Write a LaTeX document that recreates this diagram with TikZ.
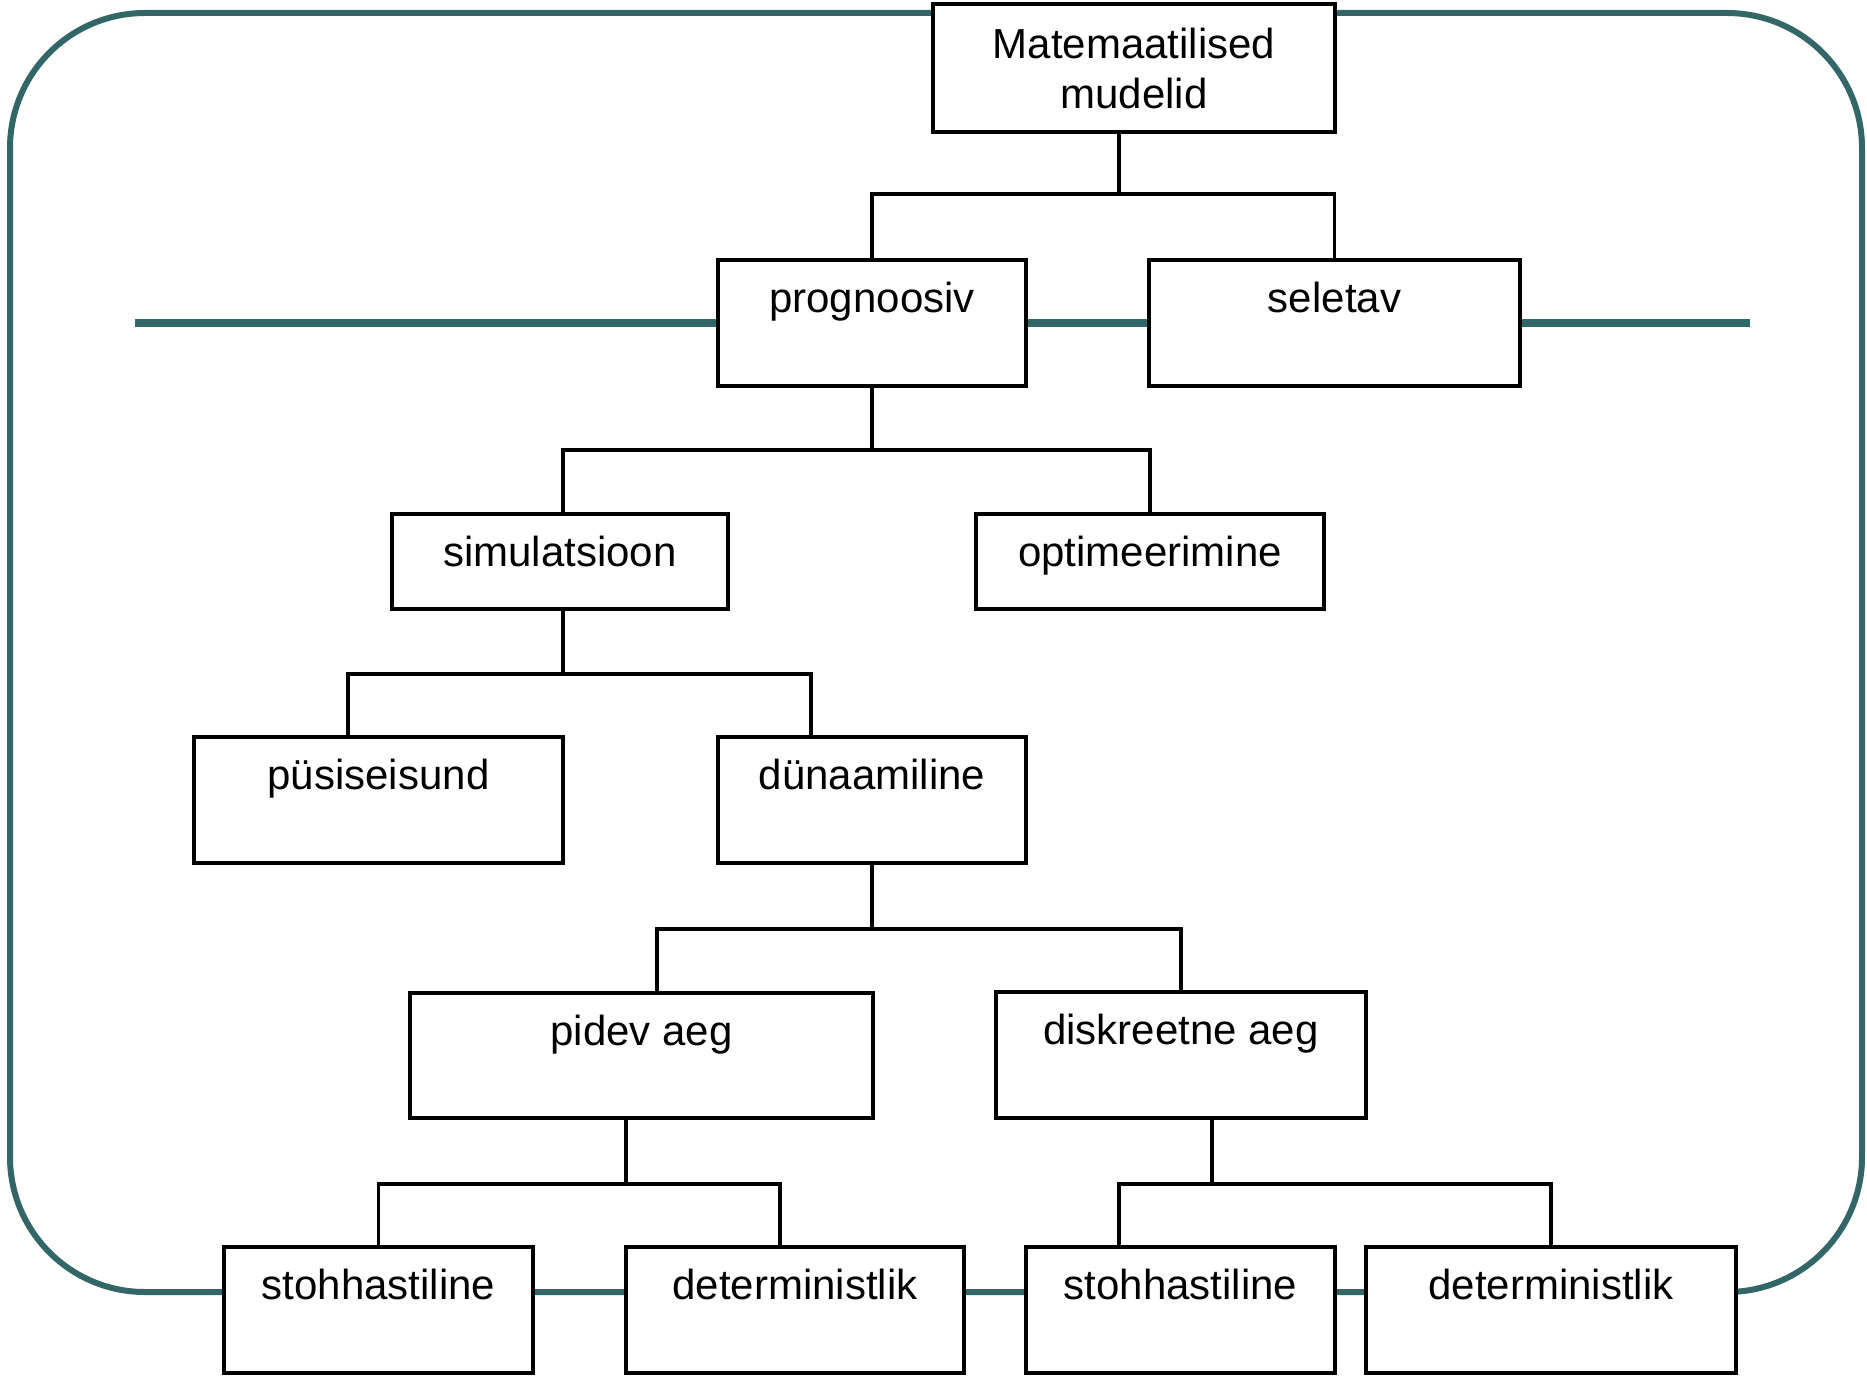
\documentclass[tikz,border=0pt]{standalone}
\usepackage{fontspec}
\setmainfont{Liberation Sans}
\usetikzlibrary{calc}
\definecolor{frameteal}{RGB}{51,102,102}
\tikzset{
  x = 0.5pt,
  y = -0.5pt,
  n/.style={
    draw, fill=white, line width=2pt,
    inner sep=0pt, outer sep=0pt,
    font=\fontsize{21pt}{25pt}\selectfont,
    text height=26pt, text depth=37pt,
  },
}

\begin{document}
\begin{tikzpicture}[
  f/.style={draw=frameteal, line width=3pt},
  l/.style={line width=1.8pt},]
  \useasboundingbox (0,0) rectangle (1867,1375);
  %%
  \draw[f, rounded corners=67.5pt] (10,13) rectangle (1862,1292);
  \draw[f, line width=3.6pt] (135,323) -- (1750,323);
  %%
  \node[n, anchor=north, minimum width=201pt, minimum height=64pt,
  text height=, text depth=, align=center]
  (Mat) at (1134,4) {Matemaatilised\\mudelid};
  \node[n, anchor=north, minimum width=154pt] (prog) at (872,260) {prognoosiv};
  \node[n, anchor=north, minimum width=185.5pt] (sel) at (1334.5,260) {seletav};
  %%
  \node[n, anchor=north, minimum width=168pt, text depth=21.5pt]
  (sim) at (560,514) {simulatsioon};
  \node[n, anchor=north, minimum width=174pt, text depth=21.5pt]
  (opt) at (1150,514) {optimeerimine};
  %%
  \node[n, anchor=north, minimum width=184.5pt] (pusi) at (378.5,737) {püsiseisund};
  \node[n, anchor=north, minimum width=154pt] (dyn) at (872,737) {dünaamiline};
  %%
  \node[n, anchor=north, minimum width=231.5pt, text depth=36.5pt]
  (pid) at (641.5,993) {pidev aeg};
  \node[n, anchor=north, minimum width=185pt] (dis) at (1181,992) {diskreetne aeg};
  %%
  \node[n, anchor=north, minimum width=154.5pt] (sto1) at (378.5,1247) {stohhastiline};
  \node[n, anchor=north, minimum width=169pt] (det1) at (795,1247) {deterministlik};
  \node[n, anchor=north, minimum width=154.5pt] (sto2) at (1180.5,1247) {stohhastiline};
  \node[n, anchor=north, minimum width=185pt] (det2) at (1551,1247) {deterministlik};
  %%
  \draw[l] ([xshift=-7.5pt]Mat.south) -- ++(0,62) -| (prog.north);
  \draw[l] ([xshift=-7.5pt]Mat.south) -- ++(0,62) -| (sel.north);
  %%
  \draw[l] (prog.south) -- ++(0,64) -| ([xshift=1.5pt]sim.north);
  \draw[l] (prog.south) -- ++(0,64) -| (opt.north);
  %%
  \draw[l] ([xshift=1.5pt]sim.south) -- ++(0,65) -| ([xshift=-15.25pt]pusi.north);
  \draw[l] ([xshift=1.5pt]sim.south) -- ++(0,65) -| ([xshift=-30.5pt]dyn.north);
  %%
  \draw[l] (dyn.south) -- ++(0,66) -| ([xshift=7.75pt]pid.north);
  \draw[l] (dyn.south) -- ++(0,66) -| (dis.north);
  %%
  \draw[l] ([xshift=-7.75pt]pid.south) -- ++(0,66) -| (sto1.north);
  \draw[l] ([xshift=-7.75pt]pid.south) -- ++(0,66) -| ([xshift=-7.5pt]det1.north);
  \draw[l] ([xshift=15.5pt]dis.south) -- ++(0,66) -| ([xshift=-30.75pt]sto2.north);
  \draw[l] ([xshift=15.5pt]dis.south) -- ++(0,66) -| (det2.north);
\end{tikzpicture}
\end{document}
